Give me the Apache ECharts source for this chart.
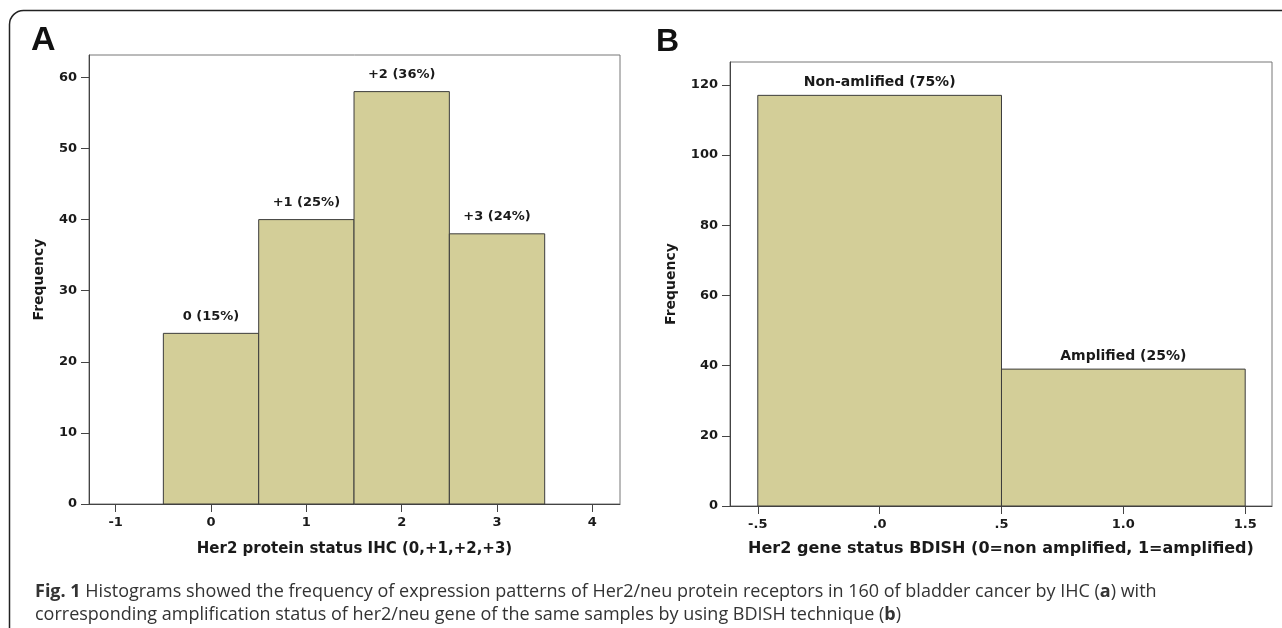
<!DOCTYPE html>
<html>
<head>
<meta charset="utf-8">
<title>Her2 histograms</title>
<script src="https://cdn.jsdelivr.net/npm/echarts@6/dist/echarts.min.js"></script>
<style>
  html, body { margin: 0; padding: 0; background: #fff; }
  #main { width: 1282px; height: 628px; }
</style>
</head>
<body>
<div id="main"></div>
<script>
// panel A: IHC score bins
var ihcBins = [0, 1, 2, 3];
var ihcFreq = [24, 40, 58, 38];
var ihcLabels = ['0 (15%)', '+1 (25%)', '+2 (36%)', '+3 (24%)'];
var ihcXTicks = [-1, 0, 1, 2, 3, 4];
var ihcYTicks = [0, 10, 20, 30, 40, 50, 60];

// panel B: BDISH status bins
var ishBins = [0, 1];
var ishFreq = [117, 39];
var ishLabels = ['Non-amlified (75%)', 'Amplified (25%)'];
var ishXTicks = [-0.5, 0, 0.5, 1, 1.5];
var ishXTickText = ['-.5', '.0', '.5', '1.0', '1.5'];
var ishYTicks = [0, 20, 40, 60, 80, 100, 120];

var FONT = 'DejaVu Sans';
var barFill = '#d3ce98';
var barLine = '#3c3c3c';

function binData(bins, freq) {
    return bins.map(function (b, i) {
        return [b - 0.5, b + 0.5, freq[i]];
    });
}

function makeRender(labels, gap, size) {
    return function (params, api) {
        var p0 = api.coord([api.value(0), api.value(2)]);
        var p1 = api.coord([api.value(1), 0]);
        return {
            type: 'group',
            children: [{
                type: 'rect',
                shape: { x: p0[0], y: p0[1], width: p1[0] - p0[0], height: p1[1] - p0[1] },
                style: { fill: barFill, stroke: barLine, lineWidth: 1 }
            }, {
                type: 'text',
                style: {
                    text: labels[params.dataIndex],
                    x: (p0[0] + p1[0]) / 2,
                    y: p0[1] - gap,
                    align: 'center',
                    verticalAlign: 'middle',
                    fontFamily: FONT,
                    fontWeight: 'bold',
                    fontSize: size,
                    fill: '#1a1a1a'
                }
            }]
        };
    };
}

function txt(size) {
    return { fontFamily: FONT, fontWeight: 'bold', fontSize: size, color: '#1a1a1a' };
}

var chart = echarts.init(document.getElementById('main'));

var option = {
    backgroundColor: '#fff',
    animation: false,
    grid: [{
        left: 89, right: 662, top: 55, bottom: 124,
        show: true, borderColor: '#777', borderWidth: 1
    }, {
        left: 730, right: 10, top: 62, bottom: 122,
        show: true, borderColor: '#777', borderWidth: 1
    }],
    xAxis: [{
        gridIndex: 0,
        type: 'value',
        min: -1.28,
        max: 4.29,
        splitLine: { show: false },
        axisLine: { show: true, onZero: false, lineStyle: { color: '#444' } },
        axisTick: { show: true, length: 8, customValues: ihcXTicks, lineStyle: { color: '#444' } },
        axisLabel: Object.assign({ customValues: ihcXTicks, margin: 12 }, txt(13)),
        name: 'Her2 protein status IHC (0,+1,+2,+3)',
        nameLocation: 'middle',
        nameGap: 38,
        nameTextStyle: txt(15)
    }, {
        gridIndex: 1,
        type: 'value',
        min: -0.614,
        max: 1.61,
        splitLine: { show: false },
        axisLine: { show: true, onZero: false, lineStyle: { color: '#444' } },
        axisTick: { show: true, length: 8, customValues: ishXTicks, lineStyle: { color: '#444' } },
        axisLabel: Object.assign({
            customValues: ishXTicks,
            margin: 12,
            formatter: function (v) {
                var i = ishXTicks.indexOf(v);
                return i >= 0 ? ishXTickText[i] : '';
            }
        }, txt(13)),
        name: 'Her2 gene status BDISH (0=non amplified, 1=amplified)',
        nameLocation: 'middle',
        nameGap: 35,
        nameTextStyle: txt(16)
    }],
    yAxis: [{
        gridIndex: 0,
        type: 'value',
        min: 0,
        max: 63.15,
        splitLine: { show: false },
        axisLine: { show: true, onZero: false, lineStyle: { color: '#444' } },
        axisTick: { show: true, length: 8, customValues: ihcYTicks, lineStyle: { color: '#444' } },
        axisLabel: Object.assign({ customValues: ihcYTicks, margin: 12 }, txt(13)),
        name: 'Frequency',
        nameLocation: 'middle',
        nameGap: 43,
        nameTextStyle: txt(14)
    }, {
        gridIndex: 1,
        type: 'value',
        min: 0,
        max: 126.5,
        splitLine: { show: false },
        axisLine: { show: true, onZero: false, lineStyle: { color: '#444' } },
        axisTick: { show: true, length: 8, customValues: ishYTicks, lineStyle: { color: '#444' } },
        axisLabel: Object.assign({ customValues: ishYTicks, margin: 12 }, txt(13)),
        name: 'Frequency',
        nameLocation: 'middle',
        nameGap: 52,
        nameTextStyle: txt(14)
    }],
    series: [{
        type: 'custom',
        xAxisIndex: 0,
        yAxisIndex: 0,
        renderItem: makeRender(ihcLabels, 17, 13),
        encode: { x: [0, 1], y: 2 },
        data: binData(ihcBins, ihcFreq)
    }, {
        type: 'custom',
        xAxisIndex: 1,
        yAxisIndex: 1,
        renderItem: makeRender(ishLabels, 12.5, 14),
        encode: { x: [0, 1], y: 2 },
        data: binData(ishBins, ishFreq)
    }],
    graphic: [{
        type: 'rect',
        shape: { x: 9.5, y: 10.5, width: 1320, height: 700, r: 14 },
        style: { fill: 'none', stroke: '#222', lineWidth: 1.5 },
        silent: true
    }, {
        type: 'text',
        style: {
            text: 'A', x: 31, y: 41, verticalAlign: 'middle',
            fontFamily: 'Liberation Sans', fontWeight: 'bold', fontSize: 34, fill: '#111'
        }
    }, {
        type: 'text',
        style: {
            text: 'B', x: 656, y: 42, verticalAlign: 'middle',
            fontFamily: 'Liberation Sans', fontWeight: 'bold', fontSize: 32, fill: '#111'
        }
    }, {
        type: 'text',
        style: {
            text: '{b|Fig. 1} Histograms showed the frequency of expression patterns of Her2/neu protein receptors in 160 of bladder cancer by IHC ({b|a}) with\n' +
                'corresponding amplification status of her2/neu gene of the same samples by using BDISH technique ({b|b})',
            x: 35, y: 580,
            fontFamily: 'Open Sans', fontSize: 18, fill: '#333', lineHeight: 23,
            rich: {
                b: { fontFamily: 'Open Sans', fontWeight: 'bold', fontSize: 18, fill: '#333', lineHeight: 23 }
            }
        }
    }]
};

chart.setOption(option);
</script>
</body>
</html>
